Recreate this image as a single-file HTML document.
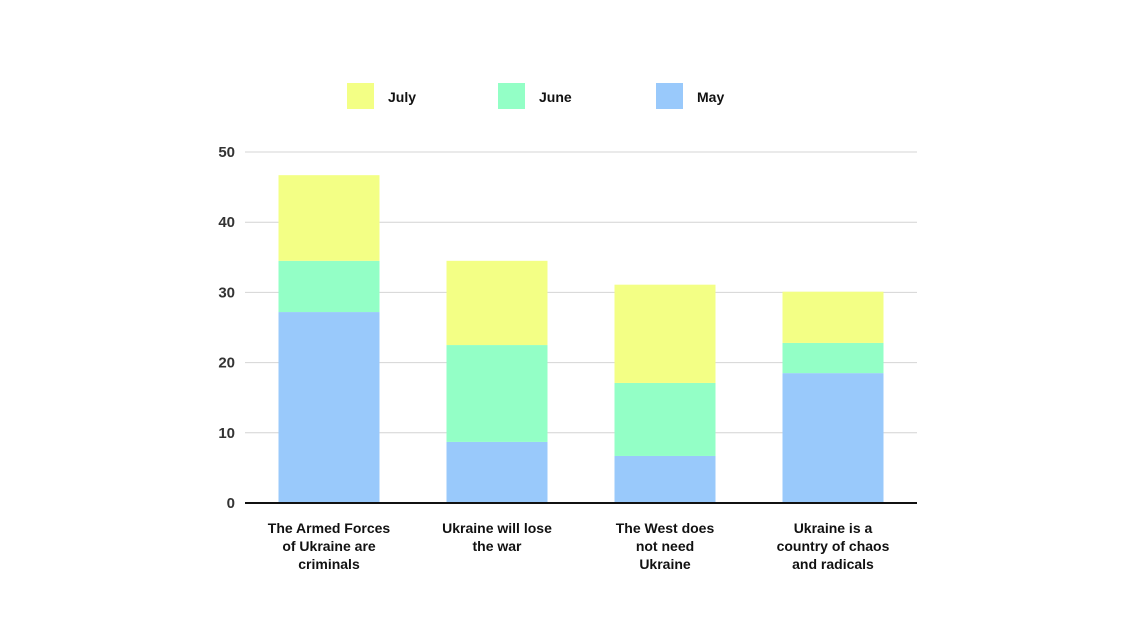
<!DOCTYPE html>
<html><head><meta charset="utf-8"><style>
body{margin:0;background:#fff;width:1132px;height:620px;overflow:hidden;font-family:"Liberation Sans",sans-serif}
</style></head><body>
<svg width="1132" height="620">
<g id="legend"></g>
<g id="grid"></g>
<g id="bars"></g>
<g id="axes"></g>
</svg>
<script>
const categories=[["The Armed Forces","of Ukraine are","criminals"],["Ukraine will lose","the war"],["The West does","not need","Ukraine"],["Ukraine is a","country of chaos","and radicals"]];
const mayValues=[27.2,8.7,6.7,18.5];
const juneValues=[7.3,13.8,10.4,4.3];
const julyValues=[12.2,12.0,14.0,7.3];
const yTicks=[0,10,20,30,40,50];
const seriesNames=["May","June","July"];
const colors={May:"#99c9fb",June:"#93ffc6",July:"#f3ff85"};
const NS="http://www.w3.org/2000/svg";
const x0=245,x1=917,y0=503,y50=152;
const y=v=>y0-(v/50)*(y0-y50);
const band=(x1-x0)/categories.length;
const bw=101;
function mk(tag,attrs,parent){const e=document.createElementNS(NS,tag);for(const k in attrs)e.setAttribute(k,attrs[k]);parent.appendChild(e);return e;}
const grid=document.getElementById('grid'),axes=document.getElementById('axes'),bars=document.getElementById('bars'),legend=document.getElementById('legend');
yTicks.forEach(t=>{
 if(t>0){const l=mk('line',{x1:x0,x2:x1,y1:y(t),y2:y(t),stroke:'#d4d4d4','stroke-width':1},grid);
 
 }
 const tx=mk('text',{x:235,y:y(t)+5,'text-anchor':'end','font-size':15,'font-weight':'bold',fill:'#333'},axes);
 tx.textContent=t;
 
 
});
const ax=mk('line',{x1:x0,x2:x1,y1:y0,y2:y0,stroke:'#111','stroke-width':2},axes);


const series={May:mayValues,June:juneValues,July:julyValues};
categories.forEach((c,i)=>{
 const cx=x0+band*(i+0.5);let base=0;
 seriesNames.forEach(s=>{const v=series[s][i];
  const r=mk('rect',{x:cx-bw/2,y:y(base+v),width:bw,height:y(base)-y(base+v),fill:colors[s]},bars);
  
  
  base+=v;});
 c.forEach((line,j)=>{const t=mk('text',{x:cx,y:533+j*18,'text-anchor':'middle','font-size':14,'font-weight':'bold',fill:'#111'},axes);
  t.textContent=line;
  
  });
});
const legItems=[["July",347],["June",498],["May",656]];
legItems.forEach(([n,lx])=>{
 const r=mk('rect',{x:lx,y:83,width:27,height:26,fill:colors[n]},legend);
 
 
 const t=mk('text',{x:lx+41,y:102,'font-size':14,'font-weight':'bold',fill:'#111'},legend);
 t.textContent=n;
 
 
});
</script>
</body></html>
